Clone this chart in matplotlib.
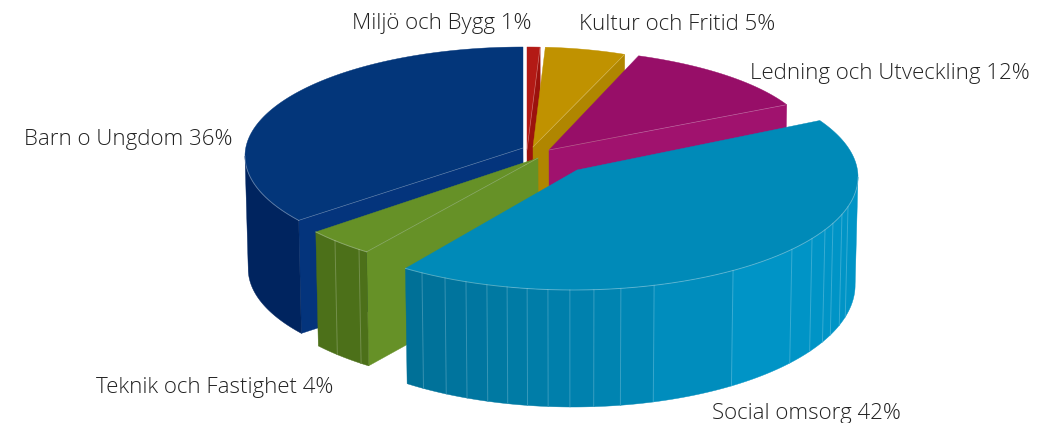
import numpy as np
import matplotlib
matplotlib.use("Agg")
import matplotlib.pyplot as plt
from matplotlib.colors import to_rgb

labels = ["Miljö och Bygg", "Kultur och Fritid", "Ledning och Utveckling",
          "Social omsorg", "Teknik och Fastighet", "Barn o Ungdom"]
values = [1, 5, 12, 42, 4, 36]

top_colors = ["#b31a15", "#c09200", "#970e68", "#008ab8", "#669127", "#03367a"]
face_colors = ["#9c120d", "#b08600", "#a0126e", "#008ab8", "#669127", "#04347c"]
wall_left = ["#9c120d", "#b08600", "#a0126e", "#006f96", "#4c7019", "#00245f"]
wall_right = ["#9c120d", "#b08600", "#a0126e", "#0094c6", "#4c7019", "#00245f"]

# geometry of each slice in pixels: ellipse cx, cy, rx, ry, then apex x, y
geom = [(527, 160, 278, 113, 527, 150),
        (529, 152, 260, 105, 533, 147),
        (537, 146, 276, 97, 549, 150),
        (573, 177, 285, 113, 577, 170),
        (530, 158, 278, 116, 538, 158),
        (523, 156, 278, 109, 523, 148)]
# small angle corrections for the perspective of the original
nudge = [(0, -0.9), (0, 0), (0, 0), (-4.8, 0), (0, 0), (3.4, 0)]
depth = [113, 113, 113, 117, 114, 113]
depth_slope = [0, 0, 0, 0.08, 0, 0]
depth_ref = [0, 0, 0, 290, 0, 0]
# which cut side shows: 0 start, 1 end, None no side
cut_side = [1, 1, 1, None, 0, 0]
draw_order = [0, 1, 2, 5, 4, 3]

# facet lines on the walls (x pixel)
facets = {3: [422, 445, 466, 487, 507, 527, 548, 570, 594, 621, 654, 733, 792, 812, 825, 833, 842, 848],
          4: [335, 359]}

label_pos = [(352, 24), (579, 25), (750, 73), (712, 413), (96, 387), (24, 140)]

plt.rcParams["font.family"] = ["Open Sans", "DejaVu Sans"]
fig = plt.figure(figsize=(10.45, 4.23), dpi=100)
ax = fig.add_axes([0, 0, 1, 1])
ax.set_xlim(0, 1045)
ax.set_ylim(423, 0)
ax.axis("off")


def rim(g, th):
    th = np.radians(th)
    return g[0] + g[2] * np.sin(th), g[1] - g[3] * np.cos(th)


def low_x(x):
    # the lower edge of the pie pulls in a little towards the middle
    return x - 0.01 * (x - 570)


def low_y(i, y):
    d = depth[i] - depth_slope[i] * (depth_ref[i] - y)
    return y + d


def mix(c0, c1, t):
    a, b = np.array(to_rgb(c0)), np.array(to_rgb(c1))
    return tuple(a + (b - a) * t)


# slice angles, clockwise from twelve o'clock
edges = np.cumsum([0] + values) / sum(values) * 360

for i in draw_order:
    g = geom[i]
    a0 = edges[i] + nudge[i][0]
    a1 = edges[i + 1] + nudge[i][1]
    ths = np.linspace(a0, a1, 3000)
    xs, ys = rim(g, ths)
    bx, by = low_x(xs), low_y(i, ys)

    # cut side
    if cut_side[i] is not None:
        th = a1 if cut_side[i] == 1 else a0
        ox, oy = rim(g, th)
        ax.fill([ox, low_x(ox), low_x(g[4]), g[4]],
                [oy, low_y(i, oy), low_y(i, g[5]), g[5]],
                color=face_colors[i], lw=0.3)

    # outer wall, only the part facing front, one flat colour per facet
    idx = np.where((ths > 90) & (ths < 270))[0]
    if len(idx) > 1:
        x_lo, x_hi = xs.min(), max(xs.min() + 1, min(xs.max(), 760))
        bins = np.r_[x_lo, facets.get(i, []), xs.max()]
        for b0, b1 in zip(bins[:-1], bins[1:]):
            sel = idx[(xs[idx] >= b0 - 0.5) & (xs[idx] <= b1 + 0.5)]
            if len(sel) < 2:
                continue
            t = np.clip(((b0 + b1) / 2 - x_lo) / (x_hi - x_lo), 0, 1)
            ax.fill(np.r_[xs[sel], bx[sel][::-1]], np.r_[ys[sel], by[sel][::-1]],
                    color=mix(wall_left[i], wall_right[i], t), lw=0.3)

        # thin light facet lines
        for fx in facets.get(i, []):
            k = idx[np.argmin(np.abs(xs[idx] - fx))]
            ax.plot([xs[k], bx[k]], [ys[k], by[k]], color="white", lw=0.7, alpha=0.22)

    # top
    ax.fill(np.r_[g[4], xs], np.r_[g[5], ys], color=top_colors[i], lw=0.3)

    # seam of the cut side, and lit rim on the front
    if cut_side[i] is not None:
        th = a1 if cut_side[i] == 1 else a0
        ox, oy = rim(g, th)
        ax.plot([ox, g[4]], [oy, g[5]], color="white", lw=0.5, alpha=0.3)
    if len(idx) > 1:
        ax.plot(xs[idx], ys[idx], color="white", lw=0.7, alpha=0.3)

for name, v, (x, y) in zip(labels, values, label_pos):
    ax.text(x, y, f"{name} {v}%", fontsize=16, fontweight="light", color="#222222",
            ha="left", va="center")

fig.savefig("out.png", dpi=100)
